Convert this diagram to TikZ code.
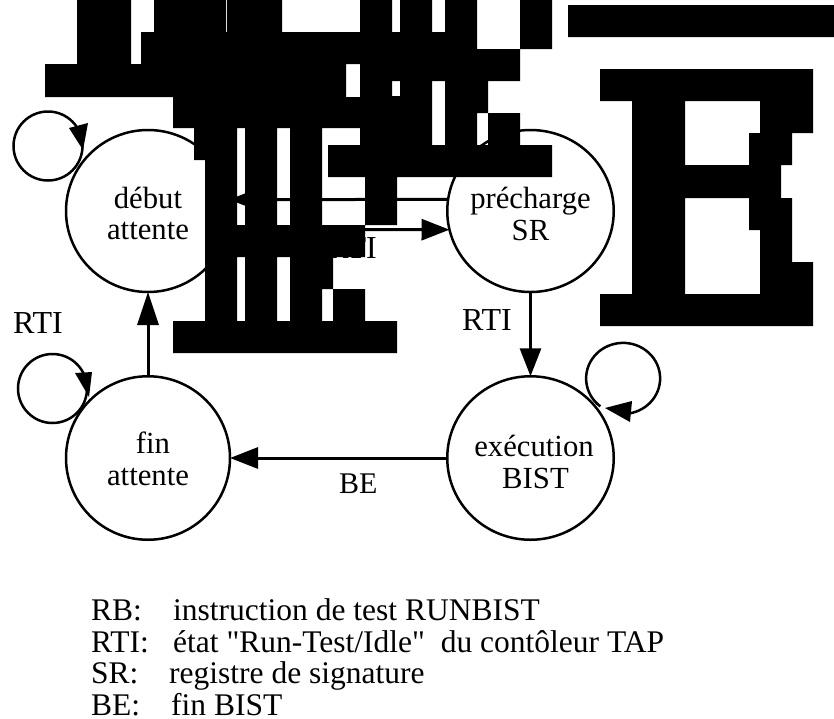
\documentclass[tikz,border=0pt]{standalone}
\usepackage{fontspec}
\setmainfont{Liberation Serif}
\newfontfamily\plainq{Liberation Serif}
\usetikzlibrary{arrows.meta,shapes.geometric}
\newcommand{\twolines}[3]{\rule{0pt}{#1pt}\makebox[80pt]{#2}\\\makebox[80pt]{#3}}
\tikzset{
  state/.style={draw=black,line width=2.5pt,ellipse,inner sep=0pt,outer sep=0pt,
    minimum width=164pt,minimum height=162pt,align=center,
    font=\fontsize{30.7}{31.5}\selectfont},
  link/.style={draw=black,line width=3pt,-{Triangle[length=28pt,width=21pt]}},
  looparc/.style={draw=black,line width=2.5pt},
  loophead/.style={fill=black},
  lab/.style={anchor=base west,inner sep=0pt,font=\fontsize{32}{32}\selectfont},
  key/.style={anchor=base west,inner sep=0pt,font=\fontsize{31.5}{32}\selectfont},
  blob/.style={fill=black}
}
\begin{document}
\begin{tikzpicture}[x=1pt,y=-1pt]
\useasboundingbox (0,0) rectangle (834,718);
\fill[white] (0,0) rectangle (834,718);
% states
\node[state] (deb) at (148,211) {\twolines{26}{début}{attente}};
\node[state,minimum width=166.5pt] (pre) at (530.5,211) {\twolines{27}{précharge}{SR}};
\node[state,minimum height=163.5pt] (fin) at (148,458) {\twolines{23}{\hspace*{10pt}fin}{attente}};
\node[state,minimum width=166.5pt,minimum height=163.5pt] (exe) at (530.5,458) {\twolines{29}{\hspace*{7pt}exécution}{\hspace*{10pt}BIST}};
% connectors
\draw[link] (pre.172) -- (deb.8);
\draw[link] (deb.-13) -- (pre.193);
\draw[link] (pre.south) -- (exe.north);
\draw[link] (exe.west) -- (fin.east);
\draw[link,-{Triangle[length=33pt,width=21pt]}] (fin.north) -- (deb.south);
% self loops
\coordinate (loopa) at (48,146);
\coordinate (loopb) at (52.5,388.5);
\coordinate (loopc) at (622.5,378);
\draw[looparc] (loopa) circle[radius=34.5pt];
\fill[loophead] (83,150) -- (69,128) -- (88,123) -- cycle;
\draw[looparc] (loopb) circle[radius=34.5pt];
\fill[loophead] (89,397) -- (75,373) -- (92,372) -- cycle;
\draw[looparc] (loopc) ++(-128:36pt) arc[start angle=-128,end angle=-440,x radius=37pt,y radius=35.5pt];
\fill[loophead] (605,408) -- (632,401) -- (630,422) -- cycle;
% labels
\node[lab] (l1) at (13,333) {RTI};
\node[lab] (l2) at (462,330) {RTI};
\node[lab] (l3) at (327,258) {RTI};
\node[key,font=\fontsize{30}{32}\selectfont] (l4) at (339,493) {BE};
% legend
\node[key] (k1) at (91,620) {RB:};
\node[key] (v1) at (173,620) {instruction de test RUNBIST};
\node[key] (k2) at (91,652) {RTI:};
\node[key] (v2) at (173,652) {{\plainq état "Run-Test/Idle"\ \ du contôleur TAP}};
\node[key] (k3) at (91,683) {SR:};
\node[key] (v3) at (169,683) {registre de signature};
\node[key] (k4) at (91,715) {BE:};
\node[key] (v4) at (171,715) {fin BIST};
% black blocks
\fill[blob]
  (77,0) rectangle (131,64) (154,0) rectangle (226,32) (227,0) rectangle (282,32)
  (360,0) rectangle (392,64) (400,0) rectangle (432,32) (445,0) rectangle (477,32)
  (520,0) rectangle (552,49)
  (141,32) rectangle (477,64) (420,49) rectangle (520,64)
  (45,64) rectangle (346,97) (360,64) rectangle (392,97) (392,64) rectangle (520,81)
  (400,81) rectangle (432,97) (392,96) rectangle (400,97) (445,81) rectangle (488,97)
  (173,97) rectangle (432,128) (445,97) rectangle (488,113)
  (445,113) rectangle (477,145) (488,113) rectangle (520,145)
  (360,128) rectangle (432,145)
  (194,128) rectangle (237,160) (245,128) rectangle (277,225) (290,128) rectangle (322,225)
  (205,160) rectangle (237,225)
  (328,145) rectangle (552,177)
  (365,177) rectangle (397,225)
  (205,225) rectangle (365,257)
  (205,257) rectangle (237,321) (245,257) rectangle (277,321) (290,257) rectangle (322,321)
  (322,257) rectangle (333,289) (333,289) rectangle (365,321)
  (173,321) rectangle (397,353)
  (568,5) rectangle (834,37)
  (600,69) rectangle (813,101)
  (632,101) rectangle (685,294)
  (760,101) rectangle (813,133)
  (749,133) rectangle (792,165)
  (685,165) rectangle (781,198)
  (749,198) rectangle (792,230)
  (760,230) rectangle (792,262)
  (760,262) rectangle (813,294)
  (600,294) rectangle (813,326);
\end{tikzpicture}
\end{document}
